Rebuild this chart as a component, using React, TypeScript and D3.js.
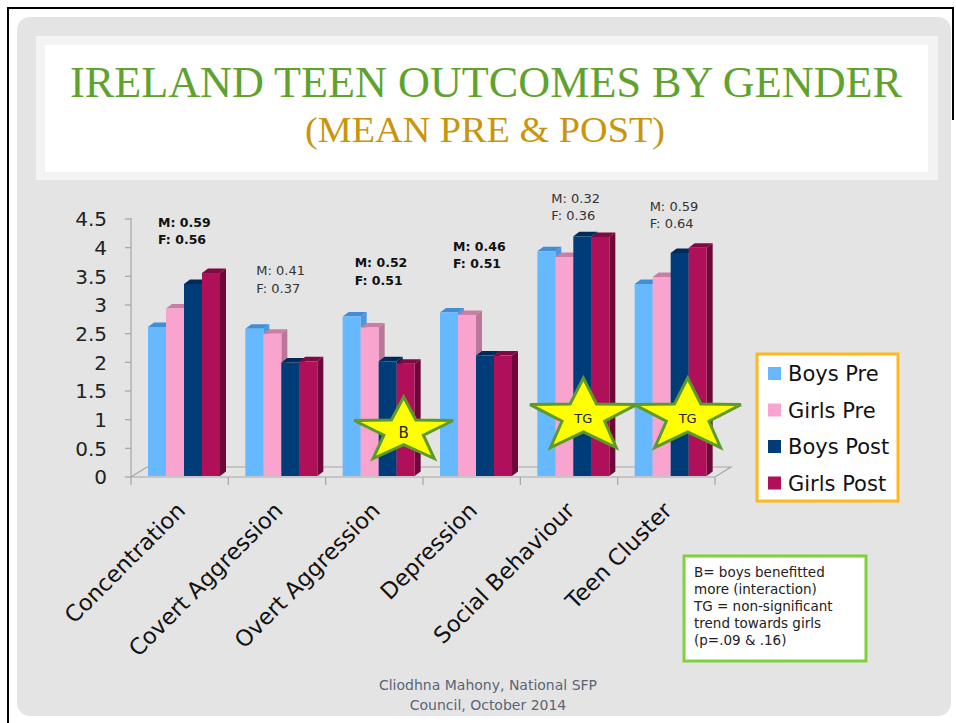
import React from "react";
import * as d3 from "d3";

const categories = [
  "Concentration",
  "Covert Aggression",
  "Overt Aggression",
  "Depression",
  "Social Behaviour",
  "Teen Cluster",
];
const seriesNames = ["Boys Pre", "Girls Pre", "Boys Post", "Girls Post"];
const boysPre = [2.6, 2.57, 2.78, 2.85, 3.92, 3.35];
const girlsPre = [2.92, 2.48, 2.59, 2.81, 3.82, 3.47];
const boysPost = [3.35, 1.98, 2.0, 2.1, 4.18, 3.89];
const girlsPost = [3.54, 2.0, 1.96, 2.1, 4.17, 3.98];
const seriesValues = [boysPre, girlsPre, boysPost, girlsPost];
const tickValues = [0, 0.5, 1, 1.5, 2, 2.5, 3, 3.5, 4, 4.5];
const tickLabels = ["0", "0.5", "1", "1.5", "2", "2.5", "3", "3.5", "4", "4.5"];
const effectM = ["M: 0.59", "M: 0.41", "M: 0.52", "M: 0.46", "M: 0.32", "M: 0.59"];
const effectF = ["F:  0.56", "F: 0.37", "F: 0.51", "F: 0.51", "F: 0.36", "F: 0.64"];
const effectBold = [true, false, true, true, false, false];
// label anchor height in data units
const effectAt = [4.43, 3.58, 3.72, 4.01, 4.85, 4.71];
const starLabels = ["", "", "B", "", "TG", "TG"];
const noteLines = [
  "B= boys benefitted",
  "more (interaction)",
  "TG = non-significant",
  "trend towards girls",
  "(p=.09 & .16)",
];

const frontColors = ["#66B8FF", "#F9A3CF", "#003C78", "#B01059"];
const topColors = ["#3F8ED6", "#C97FA5", "#002B57", "#7E0A41"];
const sideColors = ["#4A98E0", "#B9789A", "#00254B", "#6E0838"];

const FONT = "'DejaVu Sans', sans-serif";

function starPath(cx: number, cy: number, rx: number, ry: number, inner: number) {
  const pts: [number, number][] = [];
  for (let i = 0; i < 10; i++) {
    const a = (i * Math.PI) / 5;
    const r = i % 2 === 0 ? 1 : inner;
    pts.push([cx + rx * r * Math.sin(a), cy - ry * r * Math.cos(a)]);
  }
  return d3.line()(pts) + "Z";
}

export default function App() {
  const x = d3.scaleBand<string>().domain(categories).range([131, 715]);
  const inner = d3.scaleBand<string>().domain(seriesNames).range([17, 89]);
  const y = d3.scaleLinear().domain([0, 4.5]).range([476, 218]);
  const dx = 6;
  const dy = -4.5;
  const bw = inner.bandwidth();

  return (
    <svg
      width={956}
      height={723}
      style={{ position: "absolute", left: 0, top: 0, display: "block" }}
    >
      <rect x={0} y={0} width={956} height={723} fill="#ffffff" />
      <path d="M8,740 L8,8 L953,8 L953,120" fill="none" stroke="#000" strokeWidth={2} />
      <rect x={17} y={17} width={934} height={699} rx={13} fill="#E4E4E4" />
      <rect x={36} y={36} width={902} height={144} fill="#F3F3F3" />
      <rect x={45} y={45} width={883} height={127} fill="#FFFFFF" />
      <text
        x={486}
        y={97}
        textAnchor="middle"
        fontFamily="'Liberation Serif', serif"
        fontSize={45}
        fill="#5FA22D"
        textLength={832}
        lengthAdjust="spacingAndGlyphs"
      >
        IRELAND TEEN OUTCOMES BY GENDER
      </text>
      <text
        x={485}
        y={142}
        textAnchor="middle"
        fontFamily="'Liberation Serif', serif"
        fontSize={36}
        fill="#C9950C"
        textLength={360}
        lengthAdjust="spacingAndGlyphs"
      >
        (MEAN PRE &amp; POST)
      </text>

      {/* floor */}
      <polygon
        points={`131,477 715,477 731,467 147,467`}
        fill="none"
        stroke="#A6A6A6"
        strokeWidth={1.2}
      />
      {/* y axis */}
      <line x1={131} y1={218} x2={131} y2={477} stroke="#A6A6A6" strokeWidth={1.2} />
      {tickValues.map((t, i) => (
        <g key={"t" + i}>
          <line x1={125} x2={131} y1={y(t) + 1} y2={y(t) + 1} stroke="#A6A6A6" strokeWidth={1.2} />
          <text
            x={107}
            y={y(t) + 1}
            dy="0.36em"
            textAnchor="end"
            fontFamily={FONT}
            fontSize={20}
            fill="#222"
          >
            {tickLabels[i]}
          </text>
        </g>
      ))}
      {categories.map((c, i) => (
        <line
          key={"ct" + i}
          x1={x(c)!}
          x2={x(c)!}
          y1={477}
          y2={485}
          stroke="#A6A6A6"
          strokeWidth={1.2}
        />
      ))}
      <line x1={715} x2={715} y1={477} y2={485} stroke="#A6A6A6" strokeWidth={1.2} />

      {/* bars */}
      {categories.map((c, ci) =>
        seriesNames.map((s, si) => {
          const x0 = x(c)! + inner(s)!;
          const x1 = x0 + bw;
          const yt = y(seriesValues[si][ci]);
          const yb = y(0);
          return (
            <g key={c + s}>
              <polygon
                points={`${x1},${yt} ${x1 + dx},${yt + dy} ${x1 + dx},${yb + dy} ${x1},${yb}`}
                fill={sideColors[si]}
              />
              <polygon
                points={`${x0},${yt} ${x0 + dx},${yt + dy} ${x1 + dx},${yt + dy} ${x1},${yt}`}
                fill={topColors[si]}
              />
              <rect x={x0} y={yt} width={bw} height={yb - yt} fill={frontColors[si]} />
            </g>
          );
        })
      )}

      {/* effect size labels */}
      {categories.map((c, ci) => {
        const yTop = y(effectAt[ci]);
        const lx = x(c)! + 27 + ci;
        return (
          <g key={"e" + ci} fontFamily={FONT} fontSize={effectBold[ci] ? 12.5 : 13}
            fontWeight={effectBold[ci] ? "bold" : "normal"}
            fill={effectBold[ci] ? "#111" : "#333"}>
            <text x={lx} y={yTop} dy="0.36em">{effectM[ci]}</text>
            <text x={lx} y={yTop + 17.5} dy="0.36em">{effectF[ci]}</text>
          </g>
        );
      })}

      {/* category labels */}
      {categories.map((c) => {
        const cx = x(c)! + x.bandwidth() / 2 + 7;
        return (
          <text
            key={"l" + c}
            transform={`translate(${cx},512) rotate(-45)`}
            textAnchor="end"
            fontFamily={FONT}
            fontSize={22.5}
            fill="#111"
          >
            {c}
          </text>
        );
      })}

      {/* stars */}
      {categories.map((c, ci) => {
        if (!starLabels[ci]) return null;
        const isB = starLabels[ci] === "B";
        const off = isB ? 78 : ci === 4 ? 63 : 70;
        const cx = x(c)! + off;
        const ry = isB ? 34 : 38.5;
        const rx = isB ? 52 : 56;
        const cy = isB ? 431 : 416.5;
        return (
          <g key={"s" + ci}>
            <path d={starPath(cx, cy, rx, ry, 0.4)} fill="#FFFF00" stroke="#5E9A2A" strokeWidth={3} strokeLinejoin="miter" />
            <text x={cx} y={cy + 2} dy="0.36em" textAnchor="middle" fontFamily={FONT} fontSize={isB ? 15 : 13} fill="#222">
              {starLabels[ci]}
            </text>
          </g>
        );
      })}

      {/* legend */}
      <rect x={757} y={354} width={141} height={147} fill="#fff" stroke="#FFB81C" strokeWidth={3} />
      {seriesNames.map((s, i) => (
        <g key={"lg" + s}>
          <rect x={768} y={367 + i * 36.5} width={13} height={13} fill={frontColors[i]} />
          <text x={788} y={373.5 + i * 36.5} dy="0.36em" fontFamily={FONT} fontSize={21} fill="#111">
            {s}
          </text>
        </g>
      ))}

      {/* notes */}
      <rect x={684} y={556} width={182} height={105} fill="#fff" stroke="#7ED13A" strokeWidth={3} />
      {noteLines.map((l, i) => (
        <text key={"n" + i} x={694} y={572 + i * 17} dy="0.36em" fontFamily={FONT} fontSize={13.5} fill="#222">
          {l}
        </text>
      ))}

      {/* footer */}
      <text x={488} y={685} dy="0.36em" textAnchor="middle" fontFamily={FONT} fontSize={14} fill="#5B6577">
        Cliodhna Mahony, National SFP
      </text>
      <text x={488} y={705} dy="0.36em" textAnchor="middle" fontFamily={FONT} fontSize={14} fill="#5B6577">
        Council, October 2014
      </text>
    </svg>
  );
}
